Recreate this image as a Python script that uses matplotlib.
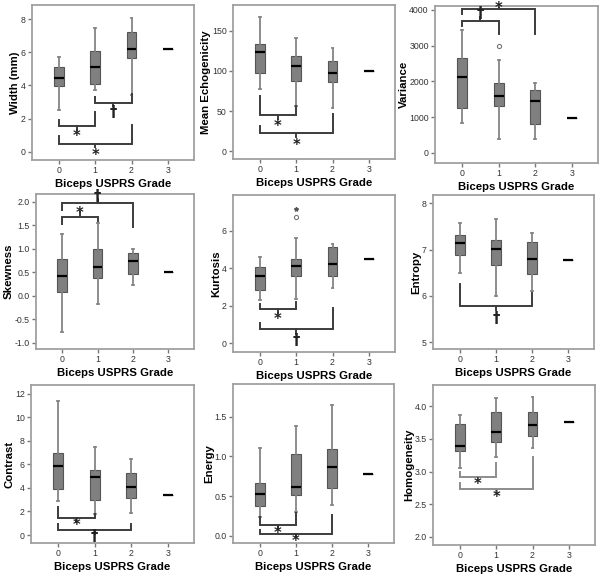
import matplotlib.pyplot as plt

plt.rcParams['font.family'] = ['Liberation Sans', 'DejaVu Sans']

grades = [0, 1, 2, 3]
grade_labels = ['0', '1', '2', '3']

# five-number summaries per grade: whisker low, q1, median, q3, whisker high
width_mm = [[2.5, 3.95, 4.45, 5.1, 5.7], [3.7, 4.1, 5.1, 6.05, 7.45],
            [3.45, 5.65, 6.2, 7.25, 8.05], [6.2] * 5]
echogenicity = [[78, 98, 124, 134, 167], [57, 88, 106, 118, 141],
                [54, 86, 97, 112, 128], [100] * 5]
variance = [[850, 1270, 2120, 2650, 3450], [380, 1300, 1580, 1970, 2600],
            [380, 800, 1460, 1750, 1950], [975] * 5]
skewness = [[-0.76, 0.09, 0.42, 0.77, 1.31], [-0.18, 0.37, 0.61, 0.99, 1.54],
            [0.22, 0.47, 0.73, 0.91, 0.99], [0.5] * 5]
kurtosis = [[2.3, 2.85, 3.55, 4.08, 4.6], [2.37, 3.6, 4.1, 4.46, 5.62],
            [2.91, 3.55, 4.2, 5.1, 5.26], [4.46] * 5]
entropy = [[6.5, 6.88, 7.15, 7.32, 7.58], [6.0, 6.67, 7.02, 7.2, 7.67],
           [6.1, 6.48, 6.8, 7.16, 7.35], [6.77] * 5]
contrast = [[2.9, 3.9, 5.9, 7.0, 11.4], [1.78, 3.0, 4.9, 5.57, 7.45],
            [1.84, 3.15, 4.1, 5.3, 6.46], [3.38] * 5]
energy = [[0.24, 0.38, 0.53, 0.67, 1.1], [0.3, 0.52, 0.62, 1.03, 1.38],
          [0.39, 0.6, 0.86, 1.09, 1.64], [0.78] * 5]
homogeneity = [[3.05, 3.32, 3.39, 3.73, 3.87], [3.23, 3.46, 3.6, 3.91, 4.13],
               [3.36, 3.54, 3.71, 3.91, 4.14], [3.76] * 5]

variance_outliers = {1: [3000]}
kurtosis_outliers = {1: [6.7]}
kurtosis_extremes = {1: [7.15]}

BOX = '#808080'
EDGE = '#555555'
WHISK = '#858585'
SPINE = '#a0a0a0'
BRK = '#3c3c3c'


def draw_panel(rect, ylabel, stats, ylim, yticks, yticklabels, brackets,
               outliers=None, extremes=None, brk_color=BRK):
    l, t, r, b = rect
    ax = fig.add_axes([l / 600, 1 - b / 574, (r - l) / 600, (b - t) / 574])
    bxp_stats = []
    for s in stats:
        bxp_stats.append(dict(whislo=s[0], q1=s[1], med=s[2], q3=s[3],
                              whishi=s[4], fliers=[]))
    ax.bxp(bxp_stats, positions=grades, widths=0.27, capwidths=0.05,
           patch_artist=True, showfliers=False,
           boxprops=dict(facecolor=BOX, edgecolor=EDGE, linewidth=0.8),
           medianprops=dict(color='black', linewidth=1.6),
           whiskerprops=dict(color=WHISK, linewidth=1.3),
           capprops=dict(color=WHISK, linewidth=1.3))
    if outliers:
        for g, vals in outliers.items():
            ax.plot([g] * len(vals), vals, 'o', ms=3, mfc='white',
                    mec='#777777', mew=0.8)
    if extremes:
        for g, vals in extremes.items():
            ax.plot([g] * len(vals), vals, '*', ms=3, color='#555555')
    for (xa, xb, ybar, ya, yb, ymid, sym, ysym) in brackets:
        ax.plot([xa, xa, xb, xb], [ya, ybar, ybar, yb], color=brk_color,
                lw=1.4, clip_on=False, solid_joinstyle='miter')
        xm = (xa + xb) / 2
        ax.plot([xm, xm], [ybar, ymid], color=brk_color, lw=1.4,
                clip_on=False)
        ax.text(xm, ysym, sym, ha='center', va='center', fontsize=10.5,
                fontweight='bold', color='#222222', clip_on=False,
                family='DejaVu Sans')
    ax.set_xlim(-0.74, 3.72)
    ax.set_ylim(*ylim)
    ax.set_xticks(grades)
    ax.set_xticklabels(grade_labels)
    ax.set_yticks(yticks)
    ax.set_yticklabels(yticklabels)
    for sp in ax.spines.values():
        sp.set_color(SPINE)
        sp.set_linewidth(1.3)
    ax.tick_params(length=3, width=1, color='#777777', labelsize=6.3,
                   labelcolor='#333333', pad=1.5)
    ax.set_xlabel('Biceps USPRS Grade', fontsize=8.2, fontweight='bold',
                  labelpad=3)
    ax.set_ylabel(ylabel, fontsize=8.2, fontweight='bold', labelpad=0.5)
    return ax


fig = plt.figure(figsize=(6, 5.74), dpi=100)

draw_panel((32, 5, 194, 160), 'Width (mm)', width_mm, (-0.5, 8.85),
           [0, 2, 4, 6, 8], ['0', '2', '4', '6', '8'],
           [(1, 2, 2.96, 3.33, 3.47, 2.76, '†', 2.35),
            (0, 1, 1.55, 1.92, 2.42, 1.3, '*', 0.9),
            (0, 2, 0.46, 0.95, 1.61, 0.26, '*', -0.2)])

draw_panel((233, 5, 395, 159), 'Mean Echogenicity', echogenicity, (-9.5, 182),
           [0, 50, 100, 150], ['0', '50', '100', '150'],
           [(0, 1, 45, 69, 56, 40, '*', 31),
            (0, 2, 23, 32, 46, 18, '*', 7)])

draw_panel((435, 6, 598, 163), 'Variance', variance, (-280, 4110),
           [0, 1000, 2000, 3000, 4000], ['0', '1000', '2000', '3000', '4000'],
           [(0, 1, 3700, 3550, 3320, 3810, '†', 3900),
            (0, 2, 4020, 3880, 3320, 4100, '*', 4050)],
           outliers=variance_outliers)

draw_panel((36, 194, 194, 349), 'Skewness', skewness, (-1.13, 2.16),
           [-1.0, -0.5, 0.0, 0.5, 1.0, 1.5, 2.0],
           ['-1.0', '-0.5', '0.0', '0.5', '1.0', '1.5', '2.0'],
           [(0, 1, 1.68, 1.52, 1.59, 1.77, '*', 1.75),
            (0, 2, 1.965, 1.82, 1.47, 2.05, '†', 2.1)])

draw_panel((233, 195, 395, 352), 'Kurtosis', kurtosis, (-0.48, 7.9),
           [0, 2, 4, 6], ['0', '2', '4', '6'],
           [(0, 1, 1.8, 2.1, 2.2, 1.6, '*', 1.25),
            (0, 2, 0.77, 1.09, 1.89, 0.5, '†', 0.14)],
           outliers=kurtosis_outliers, extremes=kurtosis_extremes)

draw_panel((433, 195, 594, 349), 'Entropy', entropy, (4.85, 8.18),
           [5, 6, 7, 8], ['5', '6', '7', '8'],
           [(0, 2, 5.78, 6.25, 6.07, 5.7, '†', 5.52)])

draw_panel((31, 385, 194, 543), 'Contrast', contrast, (-0.68, 12.76),
           [0, 2, 4, 6, 8, 10, 12], ['0', '2', '4', '6', '8', '10', '12'],
           [(0, 1, 1.41, 2.42, 1.77, 1.13, '*', 0.8),
            (0, 2, 0.45, 0.93, 0.93, 0.1, '†', -0.1)])

draw_panel((233, 384, 394, 543), 'Energy', energy, (-0.09, 1.91),
           [0.0, 0.5, 1.0, 1.5], ['0.0', '0.5', '1.0', '1.5'],
           [(0, 1, 0.138, 0.235, 0.285, 0.096, '*', 0.035),
            (0, 2, 0.021, 0.075, 0.26, -0.02, '*', -0.075)])

draw_panel((433, 385, 595, 545), 'Homogeneity', homogeneity, (1.87, 4.33),
           [2.0, 2.5, 3.0, 3.5, 4.0], ['2.0', '2.5', '3.0', '3.5', '4.0'],
           [(0, 1, 2.92, 3.0, 3.13, 2.87, '*', 2.8),
            (0, 2, 2.73, 2.82, 3.22, 2.68, '*', 2.6)],
           brk_color='#8c8c8c')

fig.savefig('out.png', dpi=100)
